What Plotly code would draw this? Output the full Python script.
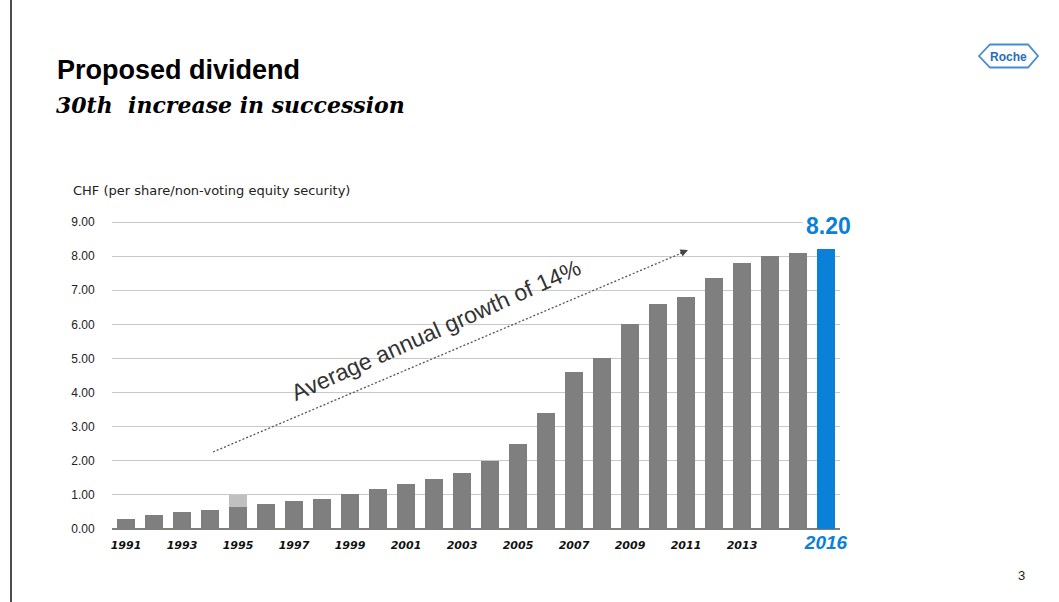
import plotly.graph_objects as go

years = [str(y) for y in range(1991, 2017)]
dividend = [0.30, 0.40, 0.50, 0.55, 0.65, 0.73, 0.83, 0.88, 1.02, 1.17,
            1.31, 1.46, 1.65, 2.00, 2.50, 3.40, 4.60, 5.00, 6.00, 6.60,
            6.80, 7.35, 7.80, 8.00, 8.10, 8.20]
special = [0, 0, 0, 0, 0.35] + [0] * 21
tick_years = ["1991", "1993", "1995", "1997", "1999", "2001", "2003",
              "2005", "2007", "2009", "2011", "2013", "2016"]
y_ticks = [0, 1, 2, 3, 4, 5, 6, 7, 8, 9]

GREY = "#7f7f7f"
LIGHT = "#c0c0c0"
BLUE = "#0a80d8"

W, H = 1059, 602
L, R, T, B = 112, 840, 220, 529
YMAX = 9.06


def px(x):
    return (x - L) / (R - L)


def py(y):
    return (B - y) / (B - T)


bar_colors = [BLUE if y == "2016" else GREY for y in years]

ticktext = []
for y in tick_years:
    if y == "2016":
        ticktext.append("<span style='font-family:Liberation Sans;font-size:19px;color:%s'><b><i>%s</i></b></span>" % (BLUE, y))
    else:
        ticktext.append("<b><i>%s</i></b>" % y)

fig = go.Figure()
fig.add_trace(go.Bar(x=years, y=dividend, marker=dict(color=bar_colors, line=dict(width=0)),
                     showlegend=False, hoverinfo="x+y"))
fig.add_trace(go.Bar(x=years, y=special, marker=dict(color=LIGHT, line=dict(width=0)),
                     showlegend=False, hoverinfo="x+y"))

fig.update_layout(
    width=W, height=H,
    margin=dict(l=L, r=W - R, t=T, b=H - B, pad=0),
    paper_bgcolor="white", plot_bgcolor="white",
    barmode="stack", bargap=0.36,
    font=dict(family="Liberation Sans", color="#222"),
    xaxis=dict(type="category", range=[-0.5, 25.5], tickmode="array",
               tickvals=tick_years, ticktext=ticktext, showgrid=False,
               ticks="outside", ticklen=6, tickcolor="rgba(0,0,0,0)",
               tickfont=dict(family="DejaVu Sans", size=11, color="#111"),
               showline=False, zeroline=False, tickangle=0),
    yaxis=dict(range=[0, YMAX], tickvals=y_ticks, tickformat=".2f",
               showgrid=True, gridcolor="#c8c8c8", gridwidth=1,
               zeroline=True, zerolinecolor="#7f7f7f", zerolinewidth=2,
               ticks="outside", ticklen=14, tickcolor="rgba(0,0,0,0)",
               tickfont=dict(family="Liberation Sans", size=12, color="#222"),
               showline=False),
)

shapes = []
# left vertical border line
shapes.append(dict(type="line", xref="paper", yref="paper",
                   x0=px(11), x1=px(11), y0=py(0), y1=py(602),
                   line=dict(color="#111", width=1.5)))
# dotted growth arrow
shapes.append(dict(type="line", xref="paper", yref="paper",
                   x0=px(213), y0=py(452), x1=px(684), y1=py(252),
                   line=dict(color="#555", width=1.3, dash="2px,2px")))
# Roche logo hexagon
hx = [979, 990, 1028, 1038, 1028, 990]
hy = [56, 44.5, 44.5, 56, 67.5, 67.5]
path = "M " + " L ".join("%f,%f" % (px(a), py(b)) for a, b in zip(hx, hy)) + " Z"
shapes.append(dict(type="path", xref="paper", yref="paper", path=path,
                   line=dict(color="#4a8ad0", width=1.8)))
fig.update_layout(shapes=shapes)

ann = []
ann.append(dict(xref="paper", yref="paper", x=px(688), y=py(250), ax=-9.2, ay=3.9,
                showarrow=True, arrowhead=2, arrowsize=1, arrowwidth=1.5,
                arrowcolor="#444", text=""))
ann.append(dict(xref="paper", yref="paper", x=px(436), y=py(330),
                text="Average annual growth of 14%", textangle=-24,
                showarrow=False, font=dict(family="Liberation Sans", size=23, color="#333"),
                xanchor="center", yanchor="middle"))
ann.append(dict(xref="paper", yref="paper", x=px(828), y=py(226),
                text="<b>8.20</b>", showarrow=False, bgcolor="white", borderpad=3,
                font=dict(family="Liberation Sans", size=23, color=BLUE),
                xanchor="center", yanchor="middle"))
ann.append(dict(xref="paper", yref="paper", x=px(55), y=py(70),
                text="<b>Proposed dividend</b>", showarrow=False,
                font=dict(family="Liberation Sans", size=27, color="#000"),
                xanchor="left", yanchor="middle"))
ann.append(dict(xref="paper", yref="paper", x=px(54), y=py(105),
                text="<b><i>30th  increase in succession</i></b>", showarrow=False,
                font=dict(family="DejaVu Serif", size=22, color="#000"),
                xanchor="left", yanchor="middle"))
ann.append(dict(xref="paper", yref="paper", x=px(71), y=py(191),
                text="CHF (per share/non-voting equity security)", showarrow=False,
                font=dict(family="DejaVu Sans", size=13, color="#222"),
                xanchor="left", yanchor="middle"))
ann.append(dict(xref="paper", yref="paper", x=px(1008.5), y=py(56.5),
                text="<b>Roche</b>", showarrow=False,
                font=dict(family="Liberation Sans", size=12, color="#2a6cb8"),
                xanchor="center", yanchor="middle"))
ann.append(dict(xref="paper", yref="paper", x=px(1021), y=py(575),
                text="3", showarrow=False,
                font=dict(family="Liberation Sans", size=13, color="#222"),
                xanchor="center", yanchor="middle"))
fig.update_layout(annotations=ann)

fig.write_html("out.html", config={"displayModeBar": False},
               post_script="document.body.style.margin='0';")
